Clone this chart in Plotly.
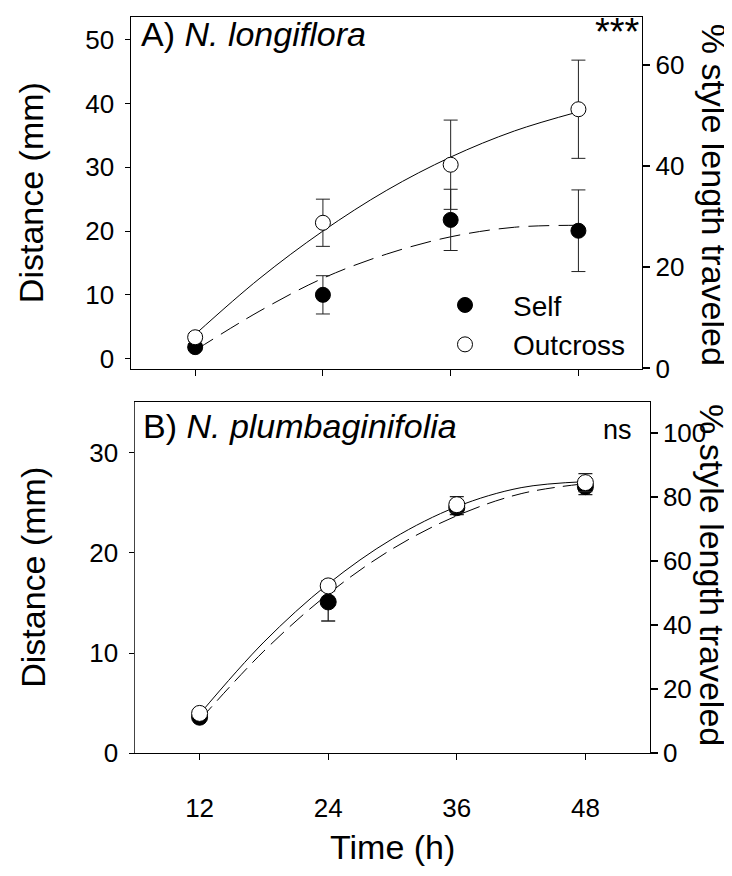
import plotly.graph_objects as go

# ---------------- data ----------------
hours = [12, 24, 36, 48]
fit_hours = [12, 18, 24, 30, 36, 42, 48]

# Panel A: N. longiflora (distance, mm)
a_self = [1.8, 10.0, 21.75, 20.05]
a_self_err = [0.5, 3.0, 4.8, 6.4]
a_out = [3.35, 21.3, 30.4, 39.1]
a_out_err = [0.6, 3.7, 7.0, 7.7]
a_self_fit = [1.3, 7.4, 12.6, 16.4, 19.1, 20.6, 20.9]
a_out_fit = [3.8, 12.5, 20.0, 26.4, 31.6, 35.7, 38.7]

# Panel B: N. plumbaginifolia (distance, mm)
b_self = [3.6, 15.1, 24.5, 26.6]
b_self_err = [0.3, 1.9, 0.7, 0.8]
b_out = [3.98, 16.7, 24.8, 27.0]
b_out_err = [0.3, 0.5, 0.8, 0.9]
b_self_fit = [3.3, 10.2, 15.9, 20.4, 23.7, 25.9, 26.9]
b_out_fit = [3.9, 11.1, 16.9, 21.4, 24.6, 26.5, 27.1]

a_left_ticks = [0, 10, 20, 30, 40, 50]
a_right_ticks = [0, 20, 40, 60]
b_left_ticks = [0, 10, 20, 30]
b_right_ticks = [0, 20, 40, 60, 80, 100]

# ---------------- layout helpers ----------------
W, H = 732, 876
FONT = "Liberation Sans, Arial, sans-serif"


def fx(p):
    return p / W


def fy(p):
    return 1 - p / H


fig = go.Figure()

# ---- Panel A ----
fig.add_trace(go.Scatter(x=fit_hours, y=a_out_fit, mode="lines", line=dict(color="black", width=1, shape="spline"),
                         xaxis="x", yaxis="y", showlegend=False, hoverinfo="skip"))
fig.add_trace(go.Scatter(x=fit_hours, y=a_self_fit, mode="lines",
                         line=dict(color="black", width=1, shape="spline", dash="21px,9px"),
                         xaxis="x", yaxis="y", showlegend=False, hoverinfo="skip"))
fig.add_trace(go.Scatter(x=hours, y=a_self, mode="markers", name="Self",
                         marker=dict(size=15, color="black", line=dict(color="black", width=1)),
                         error_y=dict(type="data", array=a_self_err, color="#222", thickness=1, width=7),
                         xaxis="x", yaxis="y", showlegend=True))
fig.add_trace(go.Scatter(x=hours, y=a_out, mode="markers", name="Outcross",
                         marker=dict(size=15, color="white", line=dict(color="black", width=1)),
                         error_y=dict(type="data", array=a_out_err, color="#222", thickness=1, width=7),
                         xaxis="x", yaxis="y", showlegend=True))
# dummy trace to activate right axis
fig.add_trace(go.Scatter(x=[None], y=[None], xaxis="x", yaxis="y2", showlegend=False, hoverinfo="skip"))

# ---- Panel B ----
fig.add_trace(go.Scatter(x=fit_hours, y=b_out_fit, mode="lines", line=dict(color="black", width=1, shape="spline"),
                         xaxis="x2", yaxis="y3", showlegend=False, hoverinfo="skip"))
fig.add_trace(go.Scatter(x=fit_hours, y=b_self_fit, mode="lines",
                         line=dict(color="black", width=1, shape="spline", dash="18px,8px"),
                         xaxis="x2", yaxis="y3", showlegend=False, hoverinfo="skip"))
fig.add_trace(go.Scatter(x=hours, y=b_self, mode="markers", name="Self",
                         marker=dict(size=16, color="black", line=dict(color="black", width=1)),
                         error_y=dict(type="data", array=b_self_err, color="#222", thickness=1.3, width=7),
                         xaxis="x2", yaxis="y3", showlegend=False))
fig.add_trace(go.Scatter(x=hours, y=b_out, mode="markers", name="Outcross",
                         marker=dict(size=16, color="white", line=dict(color="black", width=1)),
                         error_y=dict(type="data", array=b_out_err, color="#222", thickness=1.3, width=7),
                         xaxis="x2", yaxis="y3", showlegend=False))
fig.add_trace(go.Scatter(x=[None], y=[None], xaxis="x2", yaxis="y4", showlegend=False, hoverinfo="skip"))

tickfont = dict(family=FONT, size=26, color="black")

common_x = dict(range=[6, 54], tickvals=hours, ticks="outside", ticklen=6, tickwidth=1, tickcolor="black",
                showline=True, linecolor="black", linewidth=1, mirror=True, showgrid=False, zeroline=False,
                tickfont=tickfont, fixedrange=True)

fig.update_layout(
    width=W, height=H,
    margin=dict(l=0, r=0, t=0, b=0),
    paper_bgcolor="white", plot_bgcolor="white",
    font=dict(family=FONT, color="black"),
    xaxis=dict(domain=[fx(123.3), fx(634.3)], anchor="y", showticklabels=False, **common_x),
    yaxis=dict(domain=[fy(367.5), fy(9.3)], anchor="x", range=[-1.66, 53.54], tickvals=a_left_ticks,
               ticks="outside", ticklen=5, tickwidth=1, tickcolor="black", showline=True, linecolor="black",
               linewidth=1, showgrid=False, zeroline=False, tickfont=tickfont, ticklabelstandoff=6),
    yaxis2=dict(overlaying="y", side="right", anchor="x", range=[-0.16, 69.53], tickvals=a_right_ticks,
                ticks="outside", ticklen=7, tickwidth=2, tickcolor="black", showline=True, linecolor="black",
                linewidth=1, showgrid=False, zeroline=False, tickfont=tickfont),
    xaxis2=dict(domain=[fx(127.3), fx(641.7)], anchor="y3", showticklabels=True, ticklabelstandoff=25,
                **common_x),
    yaxis3=dict(domain=[fy(758.3), fy(401)], anchor="x2", range=[0, 35.03], tickvals=b_left_ticks,
                ticks="outside", ticklen=5, tickwidth=1, tickcolor="black", showline=True, linecolor="#444",
                linewidth=1, showgrid=False, zeroline=False, tickfont=tickfont, ticklabelstandoff=6),
    yaxis4=dict(overlaying="y3", side="right", anchor="x2", range=[0, 109.6], tickvals=b_right_ticks,
                ticks="outside", ticklen=7, tickwidth=2, tickcolor="black", showline=True, linecolor="black",
                linewidth=1, showgrid=False, zeroline=False, tickfont=tickfont),
    legend=dict(x=fx(409), y=fy(277), xanchor="left", yanchor="top", bgcolor="rgba(0,0,0,0)",
                font=dict(family=FONT, size=28, color="black"), itemwidth=86, tracegroupgap=0),
    showlegend=True,
)

title_font = dict(family=FONT, size=34, color="black")
annotations = [
    dict(text="A) <i>N. longiflora</i>", x=6.7, y=50.9, xref="x", yref="y", xanchor="left", yanchor="middle",
         showarrow=False, font=title_font),
    dict(text="***", x=fx(633.5), y=fy(1), xref="paper", yref="paper", xanchor="right", yanchor="top",
         showarrow=False, font=dict(family=FONT, size=38, color="black")),
    dict(text="B) <i>N. plumbaginifolia</i>", x=6.5, y=32.6, xref="x2", yref="y3", xanchor="left",
         yanchor="middle", showarrow=False, font=title_font),
    dict(text="ns", x=52.5, y=32.3, xref="x2", yref="y3", xanchor="right", yanchor="middle",
         showarrow=False, font=dict(family=FONT, size=27, color="black")),
    dict(text="Distance (mm)", x=fx(23), y=fy(188.4), xref="paper", yref="paper", textangle=-90,
         xanchor="center", yanchor="middle", showarrow=False, font=title_font),
    dict(text="Distance (mm)", x=fx(25), y=fy(579.7), xref="paper", yref="paper", textangle=-90,
         xanchor="center", yanchor="middle", showarrow=False, font=title_font),
    dict(text="% style length traveled", x=fx(706), y=fy(190), xref="paper", yref="paper", textangle=90,
         xanchor="center", yanchor="middle", showarrow=False, font=title_font),
    dict(text="% style length traveled", x=fx(704), y=fy(577), xref="paper", yref="paper", textangle=90,
         xanchor="center", yanchor="middle", showarrow=False, font=title_font),
    dict(text="Time (h)", x=fx(384.5), y=fy(854), xref="paper", yref="paper",
         xanchor="center", yanchor="middle", showarrow=False, font=title_font),
]
fig.update_layout(annotations=annotations)

fig.write_html("out.html")
